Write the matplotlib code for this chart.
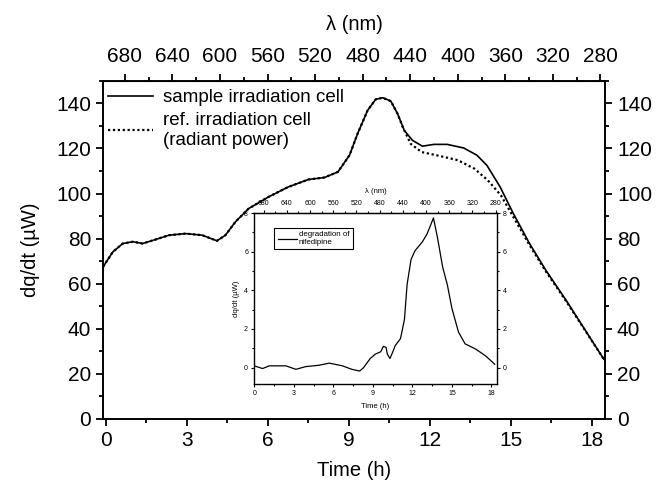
import numpy as np
import matplotlib.pyplot as plt
from matplotlib.ticker import MultipleLocator, FixedLocator

plt.rcParams['font.family'] = ['Liberation Sans', 'DejaVu Sans']

# main curves: time (h) vs heat flow (uW)
t_sample = [-0.1, 0.26, 0.63, 1.0, 1.36, 1.85, 2.34, 2.96, 3.57, 4.12, 4.43, 4.8,
            5.29, 6.03, 6.76, 7.5, 8.1, 8.6, 9.03, 9.33, 9.7, 10.0, 10.26, 10.56,
            10.81, 11.06, 11.36, 11.73, 12.16, 12.65, 13.26, 13.75, 14.12, 14.61,
            15.1, 15.7, 16.3, 17.05, 18.45]
q_sample = [67.5, 74.1, 77.8, 78.6, 77.8, 79.6, 81.5, 82.2, 81.5, 79.0, 81.5, 87.4,
            93.3, 98.5, 102.9, 106.2, 107.1, 109.6, 117.0, 126.6, 136.9, 141.8, 142.5, 141.0,
            135.4, 128.0, 123.6, 121.0, 121.8, 121.8, 120.2, 117.0, 112.5, 102.9,
            91.1, 77.8, 66.0, 52.7, 26.5]

t_ref = [-0.1, 0.26, 0.63, 1.0, 1.36, 1.85, 2.34, 2.96, 3.57, 4.12, 4.43, 4.8,
         5.29, 6.03, 6.76, 7.5, 8.1, 8.6, 9.03, 9.33, 9.7, 10.0, 10.26, 10.56,
         10.81, 11.0, 11.3, 11.7, 12.43, 13.04, 13.66, 14.15, 14.64, 15.1, 15.7,
         16.3, 17.05, 18.45]
q_ref = [67.5, 74.1, 77.8, 78.6, 77.8, 79.6, 81.5, 82.2, 81.5, 79.0, 81.5, 87.4,
         93.3, 98.5, 102.9, 106.2, 107.1, 109.6, 117.0, 126.6, 136.9, 141.8, 142.5, 141.0,
         135.4, 129.5, 122.0, 118.4, 116.5, 114.8, 111.0, 105.9, 99.2, 89.6, 77.1,
         65.5, 52.3, 26.5]

# inset: degradation of nifedipine
t_deg = [0, 0.63, 1.14, 2.4, 3.16, 3.9, 4.9, 5.7, 6.7, 7.4, 8.0, 8.3, 8.8, 9.2,
         9.6, 9.8, 10.0, 10.1, 10.3, 10.5, 10.7, 11.1, 11.4, 11.6, 11.9, 12.2,
         12.75, 13.1, 13.4, 13.6, 13.9, 14.3, 14.65, 15.0, 15.5, 16.0, 16.8,
         17.55, 18.05, 18.25]
q_deg = [0.09, -0.05, 0.09, 0.09, -0.09, 0.05, 0.12, 0.23, 0.09, -0.09, -0.18, 0.0,
         0.47, 0.7, 0.82, 1.1, 1.05, 0.7, 0.47, 0.79, 1.14, 1.5, 2.5, 4.3, 5.6, 6.05,
         6.5, 6.9, 7.4, 7.75, 6.75, 5.2, 4.3, 3.07, 1.84, 1.23, 0.96, 0.61, 0.3, 0.17]

wl_ticks = [680, 640, 600, 560, 520, 480, 440, 400, 360, 320, 280]
wl_minor = [660, 620, 580, 540, 500, 460, 420, 380, 340, 300]
time_ticks = [0, 3, 6, 9, 12, 15, 18]

# time -> wavelength of the irradiation ramp
LAM0, DLAM = 696.0, 22.7


def t2l(t):
    return LAM0 - DLAM * np.asarray(t)


def l2t(l):
    return (LAM0 - np.asarray(l)) / DLAM


fig = plt.figure(figsize=(6.57, 4.87), dpi=100)
ax = fig.add_axes([0.157, 0.140, 0.764, 0.694])

ax.plot(t_sample, q_sample, color='black', lw=1.2, label='sample irradiation cell')
ax.plot(t_ref, q_ref, color='black', lw=1.6, ls=(0, (1, 1.2)),
        label='ref. irradiation cell\n(radiant power)')

ax.set_xlim(-0.1, 18.5)
ax.set_ylim(0, 150)
ax.set_xticks(time_ticks)
ax.xaxis.set_minor_locator(MultipleLocator(1.5))
ax.set_yticks(range(0, 141, 20))
ax.yaxis.set_minor_locator(MultipleLocator(10))
ax.tick_params(which='both', direction='out', right=True, labelright=True,
               labelsize=15, width=1.3)
ax.tick_params(which='major', length=5)
ax.tick_params(which='minor', length=3)
for s in ax.spines.values():
    s.set_linewidth(1.4)
ax.set_xlabel('Time (h)', fontsize=14.5, labelpad=8)
ax.set_ylabel('dq/dt (\u00b5W)', fontsize=14.5, labelpad=12)

top = ax.secondary_xaxis('top', functions=(t2l, l2t))
top.xaxis.set_major_locator(FixedLocator(wl_ticks))
top.xaxis.set_minor_locator(FixedLocator(wl_minor))
top.tick_params(which='both', direction='out', labelsize=15, width=1.3, pad=6)
top.tick_params(which='major', length=5)
top.tick_params(which='minor', length=3)
top.set_xlabel('\u03bb (nm)', fontsize=14.5, labelpad=12)

leg = ax.legend(loc='upper left', bbox_to_anchor=(0.01, 0.975), frameon=False,
                fontsize=13.5, handlelength=2.4, handletextpad=0.5,
                borderaxespad=0, borderpad=0, labelspacing=0.3)
for txt in leg.get_texts():
    txt.set_multialignment('left')

# inset
ins = fig.add_axes([0.387, 0.2115, 0.369, 0.351])
ins.plot(t_deg, q_deg, color='black', lw=0.9, label='degradation of\nnifedipine')
ins.set_xlim(0, 18.4)
ins.set_ylim(-0.85, 8)
ins.set_xticks(time_ticks)
ins.xaxis.set_minor_locator(MultipleLocator(1.5))
ins.set_yticks([0, 2, 4, 6, 8])
ins.yaxis.set_minor_locator(MultipleLocator(1))
ins.tick_params(which='both', direction='out', right=True, labelright=True,
                labelsize=5, width=0.8, pad=2)
ins.tick_params(which='major', length=2.5)
ins.tick_params(which='minor', length=1.5)
for s in ins.spines.values():
    s.set_linewidth(1.0)
ins.set_xlabel('Time (h)', fontsize=5.5, labelpad=4)
ins.set_ylabel('dq/dt (\u00b5W)', fontsize=5.5, labelpad=3)

itop = ins.secondary_xaxis('top', functions=(t2l, l2t))
itop.xaxis.set_major_locator(FixedLocator(wl_ticks))
itop.xaxis.set_minor_locator(FixedLocator(wl_minor))
itop.tick_params(which='both', direction='out', labelsize=5, width=0.8, pad=2)
itop.tick_params(which='major', length=2.5)
itop.tick_params(which='minor', length=1.5)
itop.set_xlabel('\u03bb (nm)', fontsize=5.5, labelpad=5)

ileg = ins.legend(loc='upper left', bbox_to_anchor=(0.083, 0.912), fontsize=5.7,
                  handlelength=2.5, handletextpad=0.2, borderaxespad=0,
                  fancybox=False, edgecolor='black', framealpha=1)
ileg.get_frame().set_linewidth(0.8)
for txt in ileg.get_texts():
    txt.set_multialignment('left')

fig.savefig('out.png', dpi=100)
